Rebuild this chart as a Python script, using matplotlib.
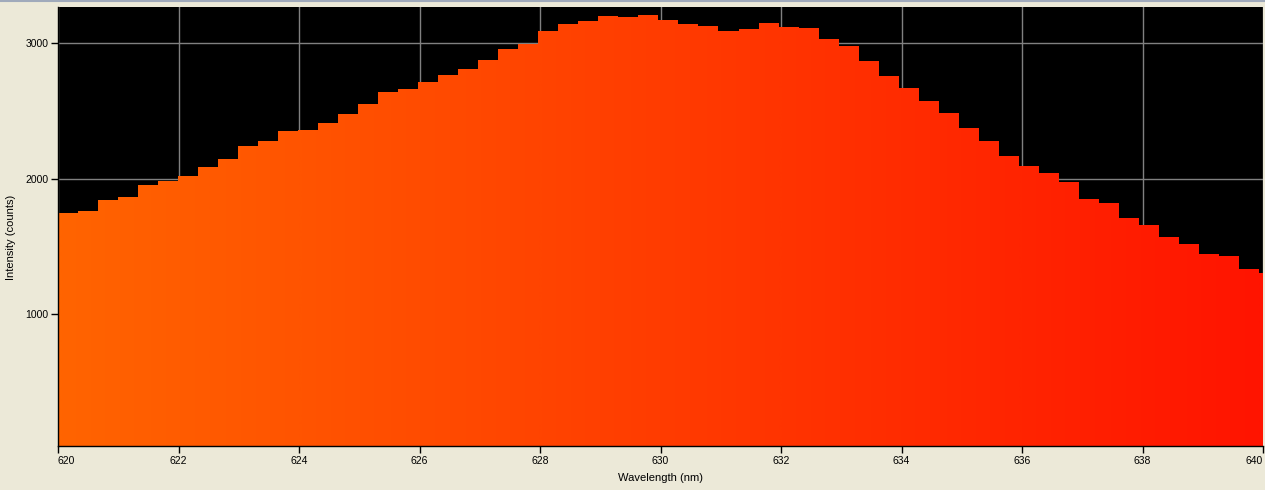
#!/usr/bin/env python3
"""Spectrometer intensity histogram, 620-640 nm, orange-to-red gradient fill on black."""
import numpy as np
import matplotlib
matplotlib.use("Agg")
import matplotlib.pyplot as plt
from matplotlib.colors import LinearSegmentedColormap
from matplotlib.lines import Line2D

# counts per detector bin, left to right
counts = [1747, 1762, 1840, 1863, 1951, 1980, 2019, 2085, 2142, 2240,
          2274, 2348, 2357, 2407, 2475, 2546, 2635, 2657, 2708, 2760,
          2804, 2870, 2951, 2990, 3083, 3135, 3157, 3193, 3186, 3201,
          3164, 3135, 3120, 3083, 3098, 3142, 3113, 3105, 3024, 2973,
          2863, 2752, 2664, 2568, 2480, 2370, 2279, 2164, 2090, 2039,
          1973, 1848, 1818, 1708, 1657, 1568, 1517, 1443, 1429, 1333,
          1304]
wl_start = 620.0
wl_step = 0.3322  # nm per detector pixel
x_ticks = [620, 622, 624, 626, 628, 630, 632, 634, 636, 638, 640]
y_ticks = [1000, 2000, 3000]

wl_edges = wl_start + wl_step * np.arange(len(counts) + 1)

BG = "#ECE9D8"
fig = plt.figure(figsize=(12.65, 4.9), dpi=100, facecolor=BG)
ax = fig.add_axes([58 / 1265, 44 / 490, 1205 / 1265, 439 / 490])
ax.set_facecolor("black")

x0, x1 = 620, 640
y0, y1 = 32, 3262

# step outline, used as clip path for the gradient
step = ax.stairs(counts, wl_edges, fill=True, facecolor="none", edgecolor="none",
                 baseline=0, zorder=2)
cmap = LinearSegmentedColormap.from_list("orred", ["#FF6400", "#FF1400"])
grad = np.linspace(0, 1, 512).reshape(1, -1)
im = ax.imshow(grad, cmap=cmap, aspect="auto", extent=[x0, x1, 0, y1],
               interpolation="bilinear", zorder=2)
im.set_clip_path(step)

ax.set_xlim(x0, x1)
ax.set_ylim(y0, y1)
ax.set_xticks(x_ticks)
ax.set_yticks(y_ticks)
ax.grid(True, color="#808080", lw=1.0, zorder=1)
ax.set_axisbelow(True)

for s in ("top", "right"):
    ax.spines[s].set_visible(False)
for s in ("left", "bottom"):
    ax.spines[s].set_color("black")
    ax.spines[s].set_linewidth(1.0)
    ax.spines[s].set_zorder(5)

ax.tick_params(direction="out", length=5, width=1, color="black", pad=2,
               labelsize=7.5, labelfontfamily="Liberation Sans")
xlabs = ax.get_xticklabels()
xlabs[0].set_horizontalalignment("left")
xlabs[-1].set_horizontalalignment("right")

ax.set_xlabel("Wavelength (nm)", fontsize=8, family="Liberation Sans", labelpad=5)
ax.set_ylabel("Intensity (counts)", fontsize=8, family="Liberation Sans")
ax.yaxis.set_label_coords(-0.035, 0.475)

# thin window border along the top edge
fig.add_artist(Line2D([0, 1], [0.998, 0.998], transform=fig.transFigure,
                      color="#A0AABB", lw=1.5))

fig.savefig("out.png", dpi=100, facecolor=BG)
